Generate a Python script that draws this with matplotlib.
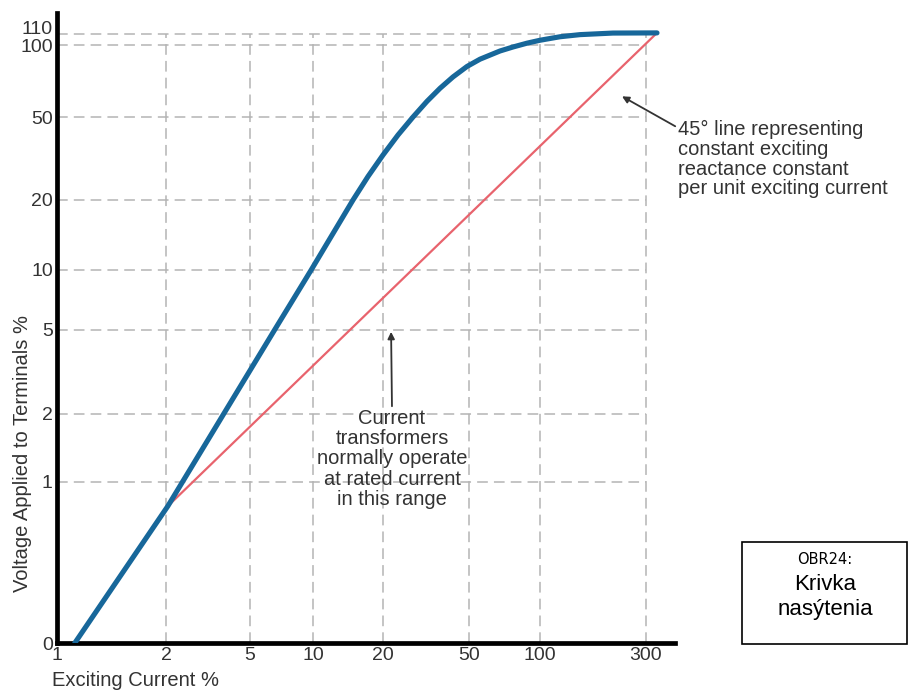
import numpy as np
import matplotlib
matplotlib.use("Agg")
import matplotlib.pyplot as plt
from matplotlib.patches import Rectangle

plt.rcParams['font.family'] = ['Liberation Sans', 'DejaVu Sans']

# tick values on both axes (the scale is a hand-drawn, uneven log grid)
x_ticks = [1, 2, 5, 10, 20, 50, 100, 300]
y_ticks = [0, 1, 2, 5, 10, 20, 50, 100, 110]

# saturation curve
curve_x = [1.12, 2.04, 3.75, 6.55, 9.8, 14.86, 17.24, 20, 23.47, 27.54, 31.97, 36.71,
           42.17, 48.95, 55.68, 67.68, 76.83, 88.1, 100, 123.0, 151.4, 213.1, 336.2]
curve_y = [0, 0.85, 2, 5, 10, 20, 25.93, 32.87, 41.0, 50, 58.16, 65.9,
           73.55, 81.33, 87.24, 94.4, 98.1, 101.6, 104.2, 107.4, 109.4, 110.9, 111.05]

# 45 degree line
line_x = [2.04, 336.2]
line_y = [0.85, 111.05]

# where the grid ticks sit on the figure (pixels, layout only)
W, H = 909, 693
x_tick_px = [57, 166, 250, 313, 383, 469, 540, 646]
y_tick_px = [643, 482, 414, 330, 270, 200, 117, 45, 34]
ax_left, ax_right, ax_bottom, ax_top = 57, 675, 643, 13


def pw(k, ks, ps):
    k = np.asarray(k, dtype=float)
    out = np.interp(k, ks, ps)
    out = np.where(k < ks[0], ps[0] + (k - ks[0]) * (ps[1] - ps[0]) / (ks[1] - ks[0]), out)
    out = np.where(k > ks[-1], ps[-1] + (k - ks[-1]) * (ps[-1] - ps[-2]) / (ks[-1] - ks[-2]), out)
    return out


x_keys = np.log10(x_ticks)
x_pos = np.array(x_tick_px, dtype=float)


def ykey(v):
    v = np.asarray(v, dtype=float)
    return np.where(v >= 1, np.log10(np.maximum(v, 1)), v - 1)


def ykey_inv(k):
    k = np.asarray(k, dtype=float)
    return np.where(k >= 0, 10 ** np.maximum(k, 0), k + 1)


y_keys = ykey(y_ticks)
y_pos = H - np.array(y_tick_px, dtype=float)


def x_fwd(v):
    return pw(np.log10(np.maximum(np.asarray(v, dtype=float), 1e-6)), x_keys, x_pos)


def x_inv(p):
    return 10 ** pw(p, x_pos, x_keys)


def y_fwd(v):
    return pw(ykey(v), y_keys, y_pos)


def y_inv(p):
    return ykey_inv(pw(p, y_pos, y_keys))


fig = plt.figure(figsize=(W / 100, H / 100), dpi=100)
ax = fig.add_axes([ax_left / W, (H - ax_bottom) / H,
                   (ax_right - ax_left) / W, (ax_bottom - ax_top) / H])
ax.set_xscale('function', functions=(x_fwd, x_inv))
ax.set_yscale('function', functions=(y_fwd, y_inv))
ax.set_xlim(float(x_inv(ax_left)), float(x_inv(ax_right)))
ax.set_ylim(float(y_inv(H - ax_bottom)), float(y_inv(H - ax_top)))

# dashed grid, only inside the 1..300 / 0..110 box
grid_kw = dict(color='#b4b4b4', lw=1.1, linestyles=(0, (7, 4)), zorder=1)
ax.hlines(y_ticks[1:], x_ticks[0], x_ticks[-1], **grid_kw)
ax.vlines(x_ticks[1:], y_ticks[0], y_ticks[-1], **grid_kw)

ax.plot(line_x, line_y, color='#e8636d', lw=1.6, zorder=2)
ax.plot(curve_x, curve_y, color='#17679a', lw=3.7, solid_capstyle='round',
        solid_joinstyle='round', zorder=3)

ax.set_xticks(x_ticks)
ax.set_xticklabels([str(v) for v in x_ticks])
ax.set_yticks(y_ticks)
ax.set_yticklabels([str(v) for v in y_ticks])
ax.xaxis.set_minor_locator(matplotlib.ticker.NullLocator())
ax.yaxis.set_minor_locator(matplotlib.ticker.NullLocator())
ax.tick_params(length=0, labelsize=14, labelcolor='#333333')
ax.tick_params(axis='x', pad=3)
ax.tick_params(axis='y', pad=3)
# the 110 label sits just above its line, as in the original
ax.get_yticklabels()[-1].set_va('baseline')

for s in ['top', 'right']:
    ax.spines[s].set_visible(False)
for s in ['left', 'bottom']:
    ax.spines[s].set_linewidth(3.4)
    ax.spines[s].set_color('black')

fig.text(52 / W, 1 - 681 / H, 'Exciting Current %', fontsize=14.5,
         color='#333333', va='center', ha='left')
fig.text(23 / W, 1 - 592 / H, 'Voltage Applied to Terminals %', fontsize=14.5,
         color='#333333', rotation=90, va='bottom', ha='center')

# annotations
ax.annotate('45° line representing\nconstant exciting\nreactance constant\nper unit exciting current',
            xy=(234, 61), xycoords='data',
            xytext=(678, H - 120), textcoords='figure pixels',
            fontsize=14.5, color='#333333', va='top', ha='left', linespacing=1.05,
            arrowprops=dict(arrowstyle='-|>', color='#333333', lw=1.3,
                            mutation_scale=10, shrinkA=0, shrinkB=0,
                            relpos=(0, 0.9)))
ax.annotate('Current\ntransformers\nnormally operate\nat rated current\nin this range',
            xy=(21.8, 4.9), xycoords='data',
            xytext=(392, H - 409), textcoords='figure pixels',
            fontsize=14.5, color='#333333', va='top', ha='center', linespacing=1.08,
            arrowprops=dict(arrowstyle='-|>', color='#333333', lw=1.3,
                            mutation_scale=10, shrinkA=0, shrinkB=0,
                            relpos=(0.5, 1.0)))

# caption box
box = Rectangle((742 / W, 1 - 644 / H), (907 - 742) / W, (644 - 542) / H,
                transform=fig.transFigure, fill=False, edgecolor='black', lw=1.2)
fig.add_artist(box)
fig.text(825 / W, 1 - 559 / H, 'OBR24:', fontsize=10.5, family='DejaVu Sans',
         ha='center', va='center')
fig.text(825 / W, 1 - 584 / H, 'Krivka', fontsize=16,
         family=['Liberation Sans Narrow', 'Liberation Sans'], ha='center', va='center')
fig.text(825 / W, 1 - 610 / H, 'nasýtenia', fontsize=16,
         family=['Liberation Sans Narrow', 'Liberation Sans'], ha='center', va='center')

fig.savefig('out.png', dpi=100)
